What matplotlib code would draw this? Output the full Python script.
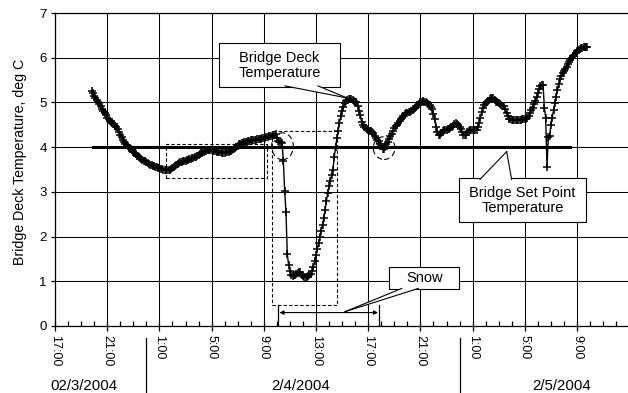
import numpy as np
import matplotlib
matplotlib.use("Agg")
import matplotlib.pyplot as plt
from matplotlib.patches import Rectangle, Ellipse, Polygon
from matplotlib.ticker import MultipleLocator
import matplotlib.transforms as mtransforms

plt.rcParams['font.family'] = ['Liberation Sans', 'DejaVu Sans']

# time axis in hours after 17:00 on 02/3/2004, logger samples every 0.1 h
sample_start_h = 2.8
sample_step_h = 0.1

# bridge deck temperature, deg C
deck_temp = [
    5.25, 5.20, 5.15, 5.10, 5.06, 5.02, 4.97, 4.92, 4.86, 4.81,
    4.76, 4.71, 4.66, 4.62, 4.59, 4.56, 4.54, 4.51, 4.48, 4.45,
    4.40, 4.34, 4.28, 4.22, 4.17, 4.12, 4.08, 4.05, 4.02, 3.99,
    3.96, 3.93, 3.90, 3.87, 3.84, 3.81, 3.78, 3.76, 3.74, 3.72,
    3.70, 3.68, 3.66, 3.64, 3.62, 3.60, 3.59, 3.58, 3.57, 3.56,
    3.55, 3.54, 3.53, 3.52, 3.51, 3.50, 3.49, 3.48, 3.48, 3.49,
    3.50, 3.52, 3.54, 3.56, 3.58, 3.60, 3.62, 3.64, 3.66, 3.67,
    3.68, 3.69, 3.70, 3.71, 3.72, 3.73, 3.74, 3.75, 3.76, 3.77,
    3.78, 3.80, 3.82, 3.84, 3.86, 3.88, 3.90, 3.91, 3.92, 3.93,
    3.93, 3.93, 3.93, 3.92, 3.92, 3.91, 3.90, 3.90, 3.89, 3.89,
    3.88, 3.88, 3.88, 3.89, 3.89, 3.90, 3.91, 3.92, 3.93, 3.95,
    3.97, 4.00, 4.03, 4.06, 4.08, 4.09, 4.10, 4.11, 4.12, 4.12,
    4.13, 4.14, 4.15, 4.16, 4.16, 4.17, 4.17, 4.18, 4.18, 4.19,
    4.19, 4.20, 4.20, 4.21, 4.22, 4.23, 4.24, 4.25, 4.26, 4.27,
    4.28, 4.30, 4.20, 4.13, 4.12, 4.12, 4.10, 3.68, 3.02, 2.55,
    1.60, 1.37, 1.22, 1.15, 1.12, 1.13, 1.14, 1.17, 1.19, 1.21,
    1.20, 1.15, 1.11, 1.10, 1.10, 1.10, 1.11, 1.13, 1.17, 1.23,
    1.32, 1.45, 1.58, 1.72, 1.86, 1.99, 2.13, 2.26, 2.42, 2.60,
    2.80, 2.98, 3.12, 3.24, 3.37, 3.50, 3.78, 4.00, 4.20, 4.36,
    4.55, 4.70, 4.80, 4.90, 4.98, 5.03, 5.06, 5.07, 5.08, 5.07,
    5.05, 5.03, 5.02, 5.01, 4.92, 4.80, 4.72, 4.56, 4.50, 4.45,
    4.42, 4.40, 4.38, 4.37, 4.35, 4.34, 4.31, 4.26, 4.21, 4.17,
    4.13, 4.08, 4.02, 3.96, 3.95, 4.00, 4.07, 4.12, 4.18, 4.24,
    4.30, 4.36, 4.42, 4.47, 4.50, 4.54, 4.58, 4.62, 4.65, 4.70,
    4.74, 4.76, 4.77, 4.78, 4.79, 4.81, 4.83, 4.85, 4.88, 4.91,
    4.94, 4.97, 5.00, 5.02, 5.03, 5.02, 5.00, 4.99, 4.97, 4.94,
    4.90, 4.86, 4.75, 4.62, 4.45, 4.33, 4.28, 4.27, 4.32, 4.36,
    4.38, 4.38, 4.39, 4.40, 4.41, 4.42, 4.45, 4.48, 4.51, 4.53,
    4.52, 4.49, 4.46, 4.40, 4.33, 4.28, 4.27, 4.28, 4.33, 4.36,
    4.38, 4.39, 4.39, 4.38, 4.38, 4.39, 4.45, 4.55, 4.66, 4.78,
    4.88, 4.94, 4.98, 5.01, 5.04, 5.07, 5.10, 5.11, 5.09, 5.05,
    5.02, 5.00, 4.98, 4.96, 4.95, 4.93, 4.91, 4.86, 4.76, 4.69,
    4.64, 4.62, 4.61, 4.60, 4.60, 4.60, 4.60, 4.60, 4.60, 4.61,
    4.62, 4.62, 4.63, 4.64, 4.66, 4.70, 4.76, 4.82, 4.88, 4.96,
    5.03, 5.12, 5.22, 5.30, 5.36, 5.38, 5.39, 4.88, 4.65, 3.56,
    4.22, 4.26, 4.50, 4.66, 4.83, 4.98, 5.13, 5.28, 5.42, 5.52,
    5.60, 5.66, 5.70, 5.74, 5.80, 5.86, 5.90, 5.95, 5.99, 6.03,
    6.07, 6.11, 6.14, 6.17, 6.19, 6.21, 6.22, 6.23, 6.23, 6.24,
    6.24,
]
deck_time = sample_start_h + sample_step_h * np.arange(len(deck_temp))

# set point
setpoint_time = [2.9, 39.5]
setpoint_temp = [4.0, 4.0]

tick_hours = [0, 4, 8, 12, 16, 20, 24, 28, 32, 36, 40, 44]
tick_labels = ['17:00', '21:00', '1:00', '5:00', '9:00', '13:00',
               '17:00', '21:00', '1:00', '5:00', '9:00', '13:00']
date_labels = ['02/3/2004', '2/4/2004', '2/5/2004']
date_label_pos = [2.2, 18.85, 38.8]
day_breaks = [7, 31]

# snow period (hours)
snow_start = 17.1
snow_end = 24.85

fig = plt.figure(figsize=(6.28, 3.93), dpi=100)
ax = fig.add_axes([55 / 628, 67 / 393, 574.2 / 628, 313 / 393])

ax.set_xlim(0, 44)
ax.set_ylim(0, 7)
ax.set_xticks(tick_hours)
ax.set_xticklabels(tick_labels)
ax.xaxis.set_minor_locator(MultipleLocator(1))
ax.yaxis.set_major_locator(MultipleLocator(1))
ax.grid(True, which='major', color='black', lw=0.75, zorder=0)
ax.set_axisbelow(True)
for s in ax.spines.values():
    s.set_linewidth(0.9)

ax.tick_params(axis='x', which='major', direction='inout', length=7, width=0.9,
               labelsize=9, pad=3, labelrotation=270)
ax.tick_params(axis='x', which='minor', direction='in', length=3.5, width=0.9)
ax.tick_params(axis='y', which='major', direction='out', length=3, width=0.9,
               labelsize=9.5, pad=3)

# set point line and deck temperature
ax.plot(setpoint_time, setpoint_temp, color='black', lw=2.2, zorder=3)
ax.plot(deck_time, deck_temp, color='black', lw=1.0, marker='+', ms=5.5,
        mew=1.1, zorder=4)

# dashed boxes and circles
dash = (0, (3, 2))
ax.add_patch(Rectangle((8.48, 3.32), 16.22 - 8.48, 4.06 - 3.32, fill=False,
                       ls=dash, lw=0.8, ec='black', zorder=5))
ax.add_patch(Rectangle((16.6, 0.47), 21.63 - 16.6, 4.35 - 0.47, fill=False,
                       ls=dash, lw=0.8, ec='black', zorder=5))
ax.add_patch(Ellipse((17.43, 4.02), 1.66, 0.60, fill=False, ls=(0, (5, 3)),
                     lw=0.8, ec='black', zorder=5))
ax.add_patch(Ellipse((25.22, 3.98), 1.66, 0.51, fill=False, ls=(0, (5, 3)),
                     lw=0.8, ec='black', zorder=5))


def callout(x0, x1, y0, y1, base, tip, text):
    ax.add_patch(Rectangle((x0, y0), x1 - x0, y1 - y0, fc='white', ec='black',
                           lw=0.8, zorder=6))
    ax.add_patch(Polygon([(base[0], base[2]), (base[1], base[2]), tip],
                         closed=True, fc='white', ec='none', zorder=7))
    for bx in base[:2]:
        ax.plot([bx, tip[0]], [base[2], tip[1]], color='black', lw=0.8,
                zorder=7)
    ax.text((x0 + x1) / 2, (y0 + y1) / 2, text, ha='center', va='center',
            fontsize=10.5, zorder=8, linespacing=1.1)


callout(12.57, 21.84, 5.35, 6.32, (17.62, 20.15, 5.37), (22.38, 5.10),
        'Bridge Deck\nTemperature')
callout(30.98, 40.67, 2.33, 3.30, (32.57, 34.99, 3.28), (34.61, 3.90),
        'Bridge Set Point\nTemperature')
callout(25.62, 30.96, 0.82, 1.31, (26.57, 27.84, 0.84), (22.22, 0.32),
        'Snow')

# snow period arrow
ax.annotate('', xy=(snow_start + 0.1, 0.30), xytext=(snow_end - 0.1, 0.30),
            arrowprops=dict(arrowstyle='<|-|>', color='black', lw=0.8,
                            mutation_scale=6, shrinkA=0, shrinkB=0), zorder=6)
for sx in [snow_start, snow_end]:
    ax.plot([sx, sx], [0.02, 0.47], color='black', lw=0.9, zorder=6)

# date group labels and separators under the axis
trans = mtransforms.blended_transform_factory(ax.transData, ax.transAxes)
for pos, lab in zip(date_label_pos, date_labels):
    ax.text(pos, -0.193, lab, transform=trans, ha='center', va='center',
            fontsize=10.8)
for b in day_breaks:
    ax.plot([b, b], [-0.038, -0.22], transform=trans, color='black', lw=0.9,
            clip_on=False)

fig.text(20 / 628, 1 - 161.5 / 393, 'Bridge Deck Temperature, deg C',
         rotation=90, ha='center', va='center', fontsize=10.2)

fig.savefig('out.png', dpi=100)
